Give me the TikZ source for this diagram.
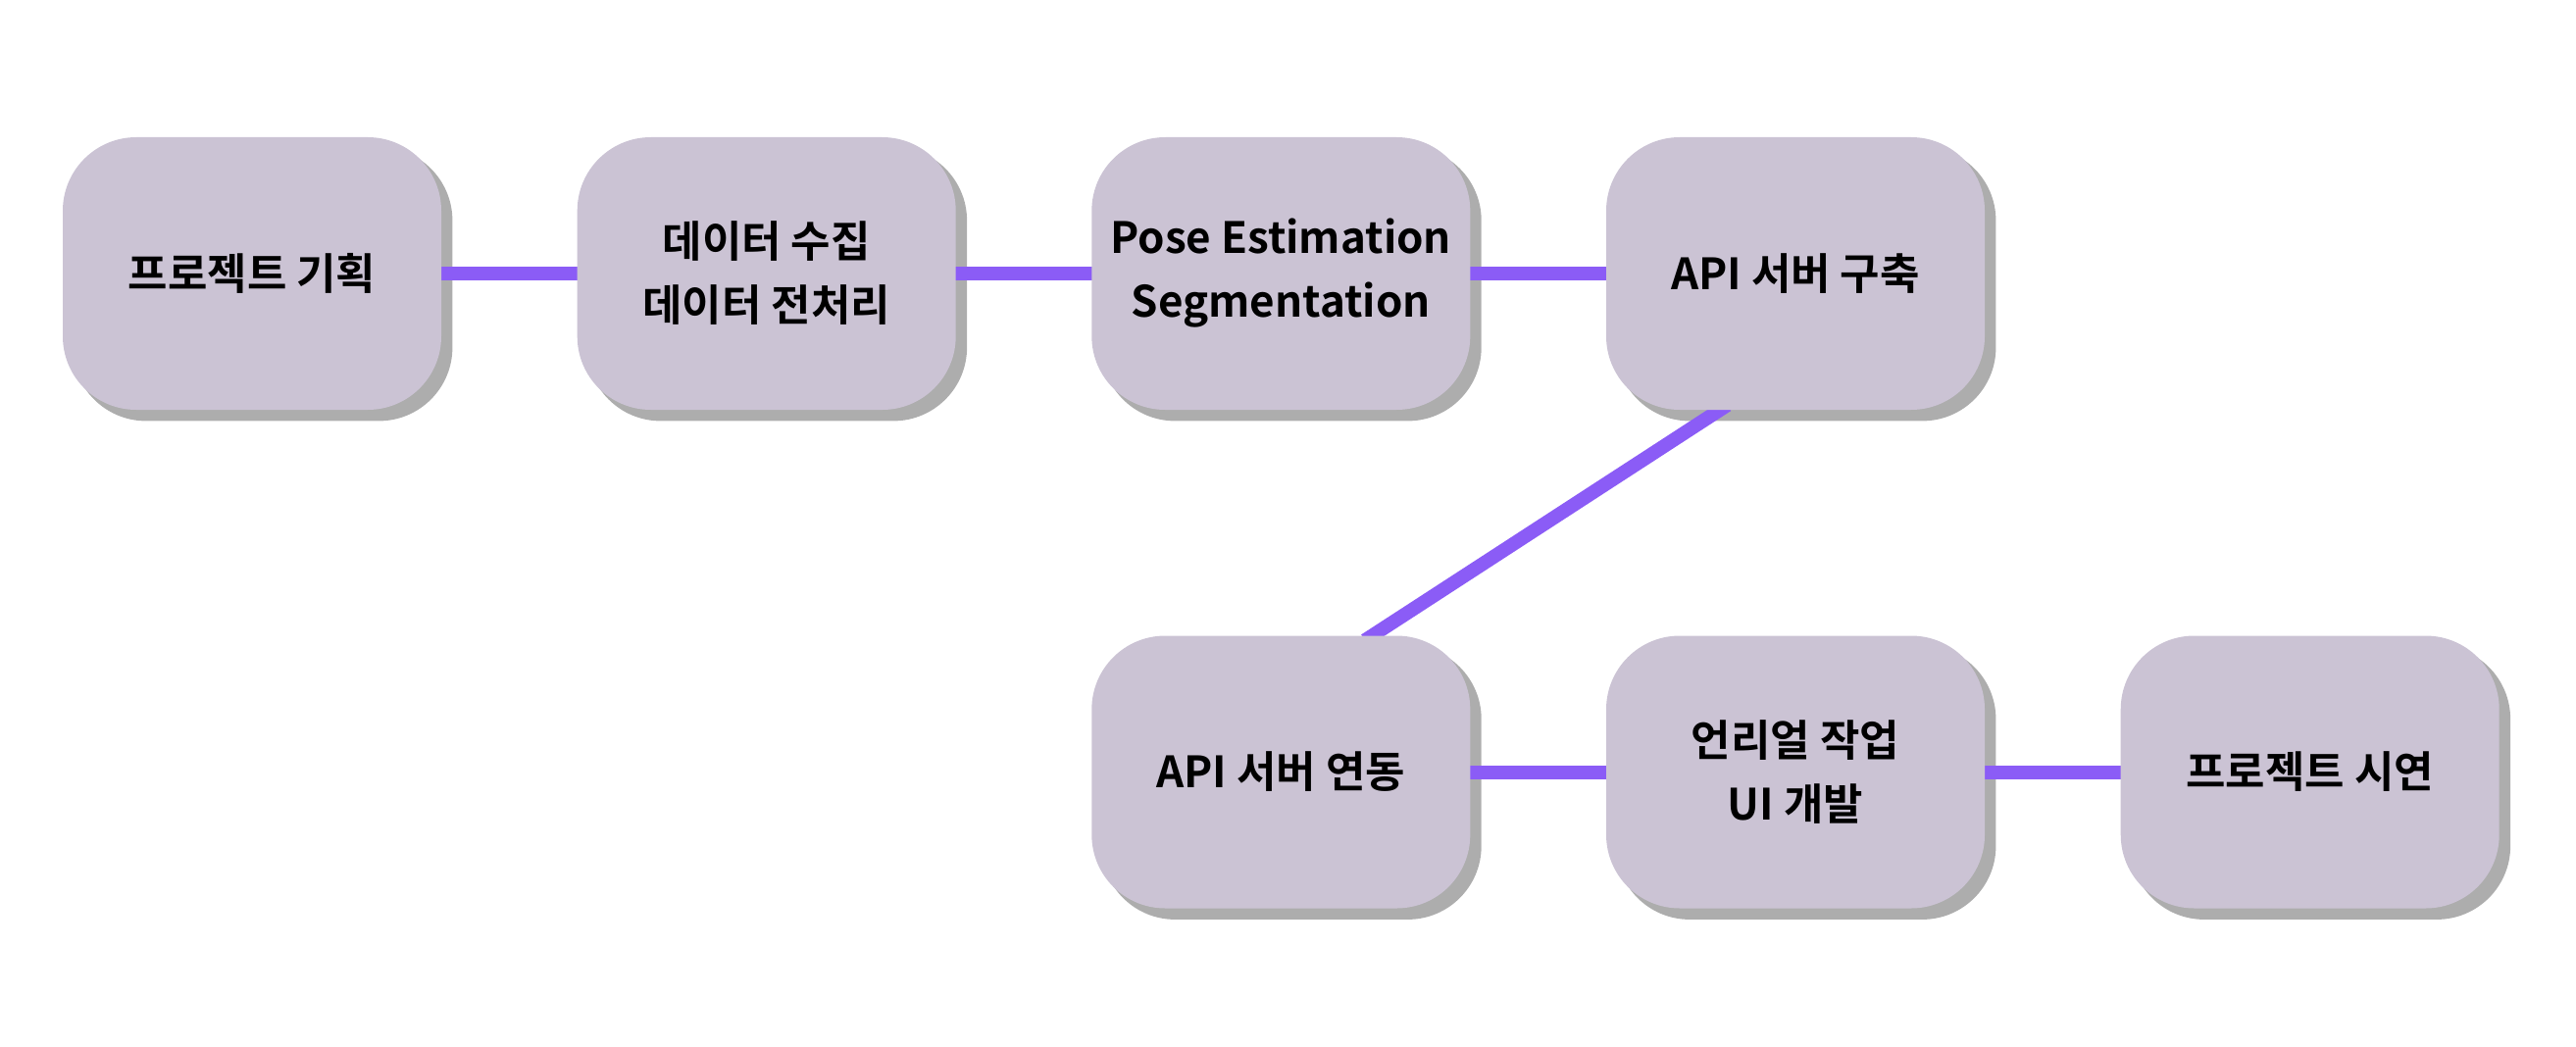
\documentclass[tikz,border=0pt]{standalone}
\usepackage{fontspec}
\setmainfont{Noto Sans CJK KR Bold}
\newfontfamily\latfont[Scale=1.0]{Noto Sans CJK KR Bold}
\newcommand\latn[1]{{\latfont #1}}
\definecolor{boxc}{HTML}{CBC3D4}
\definecolor{shadc}{HTML}{ADADAD}
\definecolor{linec}{HTML}{8B5CF6}
\pgfdeclarelayer{shadowlayer}
\pgfdeclarelayer{linelayer}
\pgfsetlayers{shadowlayer,linelayer,main}
\tikzset{
  stagebox/.style={fill=boxc, draw=none, rounded corners=0.75cm, minimum width=3.86cm, minimum height=2.78cm, inner sep=0pt, align=center, text=black, font=\fontsize{12.5}{18.5}\selectfont},
  link/.style={draw=linec, line width=0.14cm, shorten <=-0.1cm, shorten >=-0.1cm},
  shad/.style={fill=shadc, rounded corners=0.75cm}
}
\begin{document}
\begin{tikzpicture}
\useasboundingbox (0,0) rectangle (26.27,10.67);
\node[stagebox] (b1) at (2.57,7.88) {프로젝트 기획};
\node[stagebox] (b2) at (7.817,7.88) {데이터 수집\\데이터 전처리};
\node[stagebox] (b3) at (13.063,7.88) {\latn{Pose Estimation}\\\latn{Segmentation}};
\node[stagebox] (b4) at (18.31,7.88) {\latn{API} 서버 구축};
\node[stagebox] (b5) at (13.063,2.795) {\latn{API} 서버 연동};
\node[stagebox] (b6) at (18.31,2.795) {언리얼 작업\\\latn{UI} 개발};
\node[stagebox] (b7) at (23.557,2.795) {프로젝트 시연};
\begin{pgfonlayer}{shadowlayer}
\foreach \n in {b1,b2,b3,b4,b5,b6,b7}{
  \fill[shad] ([shift={(0.107,-0.107)}]\n.south west) rectangle ([shift={(0.107,-0.107)}]\n.north east);
}
\end{pgfonlayer}
\begin{pgfonlayer}{linelayer}
\draw[link] (b1.east) -- (b2.west);
\draw[link] (b2.east) -- (b3.west);
\draw[link] (b3.east) -- (b4.west);
\draw[link] ([xshift=-0.78cm]b4.south) -- ([xshift=0.94cm]b5.north);
\draw[link] (b5.east) -- (b6.west);
\draw[link] (b6.east) -- (b7.west);
\end{pgfonlayer}
\end{tikzpicture}
\end{document}
